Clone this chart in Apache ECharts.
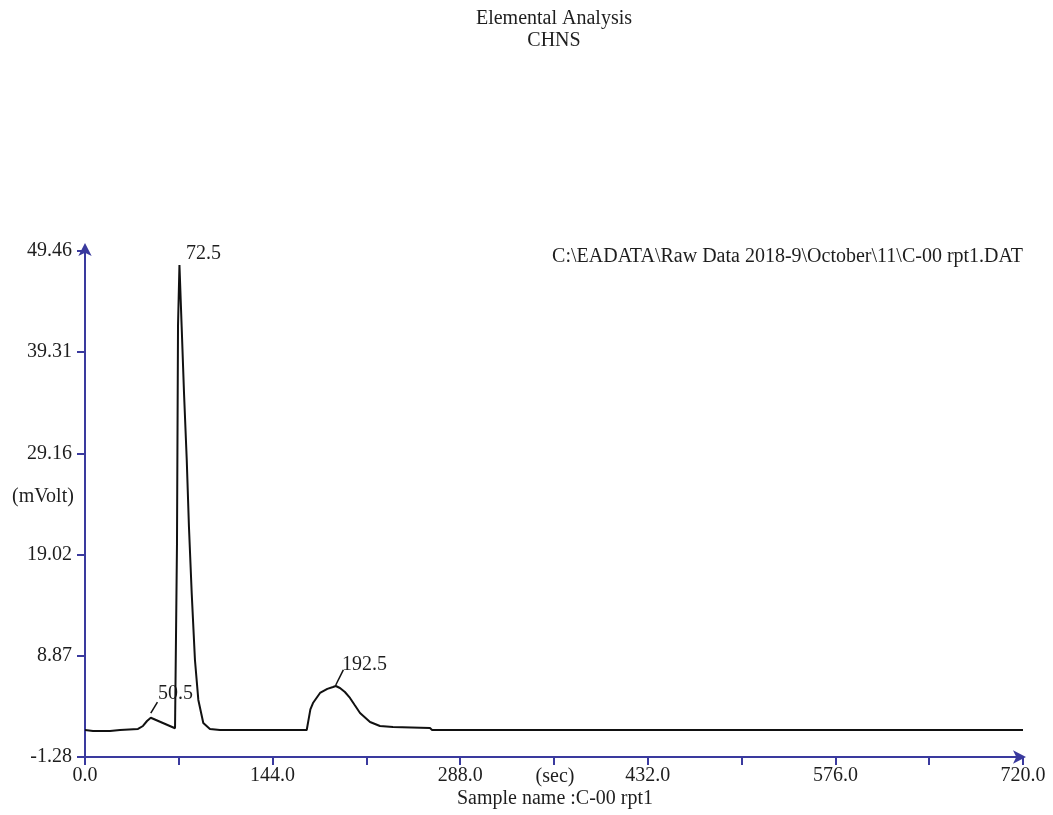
<!DOCTYPE html>
<html>
<head>
<meta charset="utf-8">
<title>Elemental Analysis CHNS</title>
<script src="https://cdn.jsdelivr.net/npm/echarts@6/dist/echarts.min.js"></script>
<style>
  html, body { margin: 0; padding: 0; background: #fff; }
  #chart { width: 1053px; height: 815px; }
</style>
</head>
<body>
<div id="chart"></div>
<script>
// detector signal (time in sec, signal in mVolt)
var times = [0, 6.1, 19.2, 26.9, 40.7, 44.5, 47.6, 50.5, 69.1, 70.2, 70.6, 71.4, 72.5,
    74.2, 76.0, 78.1, 79.8, 81.9, 84.4, 87.0, 90.8, 95.9, 103.6, 170.2, 171.5, 173.0, 175.0,
    180.4, 186.0, 190.4, 192.5, 195.7, 199.5, 203.4, 207.0, 211.1, 218.8, 226.4,
    236.4, 264.8, 266.4, 720];
var signal = [1.43, 1.33, 1.33, 1.43, 1.53, 1.83, 2.33, 2.66, 1.60, 1.63, 20.0, 42.0, 48.06,
    41.87, 35.22, 28.50, 21.78, 15.17, 8.45, 4.44, 2.13, 1.53, 1.43, 1.43, 2.40, 3.50, 4.13,
    5.14, 5.55, 5.74, 5.84, 5.64, 5.24, 4.64, 3.93, 3.13, 2.23, 1.83,
    1.73, 1.63, 1.43, 1.43];

// retention times of the labelled peaks
var peakTimes = [50.5, 72.5, 192.5];

var yTicks = [-1.28, 8.87, 19.02, 29.16, 39.31, 49.46];
var xLabels = [0, 144, 288, 432, 576, 720];

var serif = '"Liberation Serif", "Times New Roman", serif';
var axisBlue = '#3a3a9e';
var txt = '#1e1e1e';

var myChart = echarts.init(document.getElementById('chart'));

var pts = [];
for (var i = 0; i < times.length; i++) {
    pts.push([times[i], signal[i]]);
}

function label(text, x, y, align) {
    return {
        type: 'text',
        x: x, y: y,
        style: {
            text: text,
            font: '20px ' + serif,
            fill: txt,
            align: align || 'left',
            verticalAlign: 'middle',
            textAlign: align || 'left',
            textVerticalAlign: 'middle'
        }
    };
}

var option = {
    backgroundColor: '#fff',
    animation: false,
    grid: { left: 85, right: 30, top: 251, bottom: 58 },
    xAxis: {
        type: 'value',
        min: 0, max: 720, interval: 72,
        axisLine: {
            onZero: false,
            lineStyle: { color: axisBlue, width: 2 },
            symbol: ['none', 'arrow'], symbolSize: [10, 13], symbolOffset: [0, 3]
        },
        axisTick: { length: 8, lineStyle: { color: axisBlue, width: 2 } },
        axisLabel: {
            customValues: xLabels,
            margin: 9,
            fontFamily: serif, fontSize: 20, color: txt,
            formatter: function (v) { return v.toFixed(1); }
        },
        splitLine: { show: false }
    },
    yAxis: {
        type: 'value',
        min: -1.28, max: 49.46,
        axisLine: {
            show: true, onZero: false,
            lineStyle: { color: axisBlue, width: 2 },
            symbol: ['none', 'arrow'], symbolSize: [10, 13], symbolOffset: [0, 8]
        },
        axisTick: { show: true, length: 8, customValues: yTicks, lineStyle: { color: axisBlue, width: 2 } },
        axisLabel: {
            customValues: yTicks,
            margin: 13,
            fontFamily: serif, fontSize: 20, color: txt,
            formatter: function (v) { return v.toFixed(2); }
        },
        splitLine: { show: false }
    },
    graphic: [
        label('Elemental Analysis', 554, 19, 'center'),
        label('CHNS', 554, 41, 'center'),
        label('C:\\EADATA\\Raw Data 2018-9\\October\\11\\C-00 rpt1.DAT', 1023, 257, 'right'),
        label('(mVolt)', 12, 497, 'left'),
        label('(sec)', 555, 777, 'center'),
        label('Sample name :C-00 rpt1', 555, 799, 'center'),
        label(peakTimes[1].toFixed(1), 186, 254, 'left'),
        label(peakTimes[0].toFixed(1), 158, 694, 'left'),
        label(peakTimes[2].toFixed(1), 342, 665, 'left')
    ],
    series: [
        {
            type: 'line',
            data: pts,
            showSymbol: false,
            lineStyle: { color: '#111', width: 2 },
            markLine: {
                silent: true,
                symbol: 'none',
                label: { show: false },
                lineStyle: { color: '#111', width: 1.5, type: 'solid' },
                data: [
                    [{ coord: [peakTimes[0], 3.12] }, { coord: [55.6, 4.23] }],
                    [{ coord: [peakTimes[2], 5.94] }, { coord: [198.3, 7.45] }]
                ]
            }
        }
    ]
};

myChart.setOption(option);
</script>
</body>
</html>
